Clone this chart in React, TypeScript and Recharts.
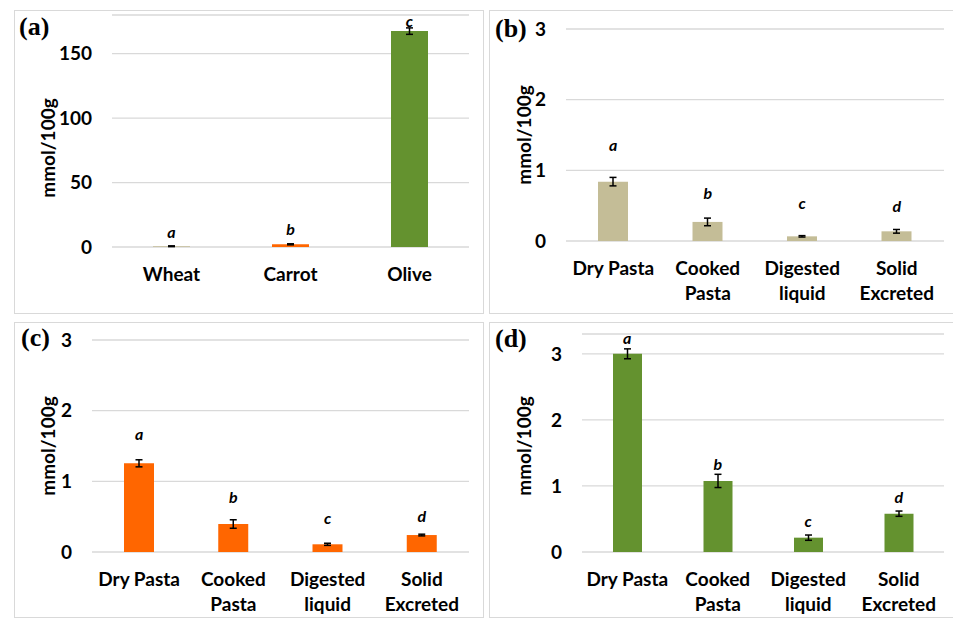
import React from 'react';
import { ComposedChart, Bar, Line, XAxis, YAxis, CartesianGrid, ErrorBar, LabelList, Cell } from 'recharts';

const FONT = 'Lato, "Open Sans", sans-serif';
const BEIGE = '#c4bd97';
const ORANGE = '#ff6600';
const GREEN = '#64922f';
const GRID = '#d9d9d9';

// (a) raw ingredients
const sourceNames = ['Wheat', 'Carrot', 'Olive'];
const sourceValues = [0.6, 2.1, 167.5];
const sourceErrors = [0.3, 0.4, 2.5];
const sourceLetters = ['a', 'b', 'c'];
const sourceLetterY = [11.6, 14, 175];
const sourceColors = [BEIGE, ORANGE, GREEN];
const sourceTicks = [0, 50, 100, 150];

// (b)-(d) pasta stages
const stageNames = ['Dry Pasta', 'Cooked\nPasta', 'Digested\nliquid', 'Solid\nExcreted'];
const stageLetters = ['a', 'b', 'c', 'd'];
const stageTicks = [0, 1, 2, 3];

const wheatValues = [0.84, 0.27, 0.066, 0.137];
const wheatErrors = [0.06, 0.054, 0.01, 0.026];
const wheatLetterY = [1.36, 0.67, 0.53, 0.49];

const carrotValues = [1.255, 0.396, 0.109, 0.24];
const carrotErrors = [0.05, 0.06, 0.015, 0.012];
const carrotLetterY = [1.66, 0.78, 0.47, 0.51];

const oliveValues = [3.0, 1.076, 0.217, 0.58];
const oliveErrors = [0.075, 0.1, 0.04, 0.04];
const oliveLetterY = [3.24, 1.32, 0.47, 0.83];

interface Row {
  name: string;
  value: number;
  err: number;
  letter: string;
  letterY: number;
  color: string;
}

const buildRows = (
  names: string[],
  values: number[],
  errors: number[],
  letters: string[],
  letterY: number[],
  colors: string[]
): Row[] =>
  names.map((name, i) => ({
    name,
    value: values[i],
    err: errors[i],
    letter: letters[i],
    letterY: letterY[i],
    color: colors[i],
  }));

const CategoryTick = (props: any) => {
  const { x, y, payload } = props;
  const lines = String(payload.value).split('\n');
  return (
    <text x={x} y={y} textAnchor="middle" fill="#000" style={{ fontFamily: FONT, fontSize: 19, fontWeight: 700 }}>
      {lines.map((line, i) => (
        <tspan key={i} x={x} dy={i === 0 ? 26 : 25}>
          {line}
        </tspan>
      ))}
    </text>
  );
};

const AxisTitle = (props: any) => {
  const { titleX, titleY } = props;
  return (
    <text
      x={titleX}
      y={titleY}
      transform={`rotate(-90, ${titleX}, ${titleY})`}
      textAnchor="middle"
      dominantBaseline="central"
      fill="#000"
      style={{ fontFamily: FONT, fontSize: 19, fontWeight: 700 }}
    >
      mmol/100g
    </text>
  );
};

interface PanelProps {
  left: number;
  top: number;
  height: number;
  tag: string;
  tagX: number;
  tagY: number;
  rows: Row[];
  domainMax: number;
  ticks: number[];
  barSize: number;
  margin: { top: number; right: number; bottom: number; left: number };
  titleX: number;
  titleY: number;
}

const PANEL_WIDTH = 470;

const Panel: React.FC<PanelProps> = ({
  left, top, height, tag, tagX, tagY, rows, domainMax, ticks, barSize, margin, titleX, titleY,
}) => (
  <div
    style={{
      position: 'absolute',
      left,
      top,
      width: PANEL_WIDTH,
      height,
      boxShadow: `inset 0 0 0 1px ${GRID}`,
    }}
  >
    <ComposedChart width={PANEL_WIDTH} height={height} data={rows} margin={margin}>
      <CartesianGrid vertical={false} stroke={GRID} strokeWidth={1.3} />
      <XAxis
        dataKey="name"
        type="category"
        interval={0}
        height={60}
        tickLine={false}
        axisLine={false}
        tick={<CategoryTick />}
      />
      <YAxis
        type="number"
        width={60}
        domain={[0, domainMax]}
        ticks={ticks}
        tickLine={false}
        axisLine={false}
        tickMargin={14}
        tick={{ fill: '#000', fontSize: 19, fontWeight: 700, fontFamily: FONT }}
        label={<AxisTitle titleX={titleX} titleY={titleY} />}
      />
      <Bar dataKey="value" barSize={barSize} isAnimationActive={false}>
        {rows.map((r, i) => (
          <Cell key={i} fill={r.color} />
        ))}
        <ErrorBar dataKey="err" width={3.5} stroke="#000" strokeWidth={1.5} direction="y" />
      </Bar>
      <Line
        dataKey="letterY"
        stroke="none"
        dot={false}
        activeDot={false}
        legendType="none"
        isAnimationActive={false}
      >
        <LabelList
          dataKey="letter"
          position="center"
          fill="#000"
          fontSize={16}
          fontStyle="italic"
          fontWeight={700}
          fontFamily={FONT}
        />
      </Line>
    </ComposedChart>
    <div
      style={{
        position: 'absolute',
        left: tagX,
        top: tagY - 13,
        fontFamily: '"Liberation Serif", "Times New Roman", serif',
        fontWeight: 700,
        fontSize: 26,
        lineHeight: '26px',
        color: '#000',
      }}
    >
      {tag}
    </div>
  </div>
);

const App: React.FC = () => {
  const rowsA = buildRows(sourceNames, sourceValues, sourceErrors, sourceLetters, sourceLetterY, sourceColors);
  const rowsB = buildRows(stageNames, wheatValues, wheatErrors, stageLetters, wheatLetterY, stageNames.map(() => BEIGE));
  const rowsC = buildRows(stageNames, carrotValues, carrotErrors, stageLetters, carrotLetterY, stageNames.map(() => ORANGE));
  const rowsD = buildRows(stageNames, oliveValues, oliveErrors, stageLetters, oliveLetterY, stageNames.map(() => GREEN));

  return (
    <div
      style={{
        position: 'absolute',
        left: 0,
        top: 0,
        width: 953,
        height: 618,
        overflow: 'hidden',
        background: '#fff',
      }}
    >
      <Panel
        left={14}
        top={10}
        height={304}
        tag="(a)"
        tagX={5}
        tagY={17}
        rows={rowsA}
        domainMax={180}
        ticks={sourceTicks}
        barSize={37}
        margin={{ top: 5, right: 15, bottom: 7, left: 38 }}
        titleX={33}
        titleY={138}
      />
      <Panel
        left={489}
        top={10}
        height={304}
        tag="(b)"
        tagX={6}
        tagY={19}
        rows={rowsB}
        domainMax={3}
        ticks={stageTicks}
        barSize={30}
        margin={{ top: 19, right: 15, bottom: 13, left: 17 }}
        titleX={34}
        titleY={125}
      />
      <Panel
        left={14}
        top={322}
        height={296}
        tag="(c)"
        tagX={7}
        tagY={16}
        rows={rowsC}
        domainMax={3}
        ticks={stageTicks}
        barSize={30}
        margin={{ top: 18, right: 15, bottom: 6, left: 18 }}
        titleX={33}
        titleY={124}
      />
      <Panel
        left={489}
        top={322}
        height={296}
        tag="(d)"
        tagX={6}
        tagY={17}
        rows={rowsD}
        domainMax={3.3}
        ticks={stageTicks}
        barSize={29}
        margin={{ top: 12, right: 15, bottom: 6, left: 33 }}
        titleX={34}
        titleY={124}
      />
    </div>
  );
};

export default App;
